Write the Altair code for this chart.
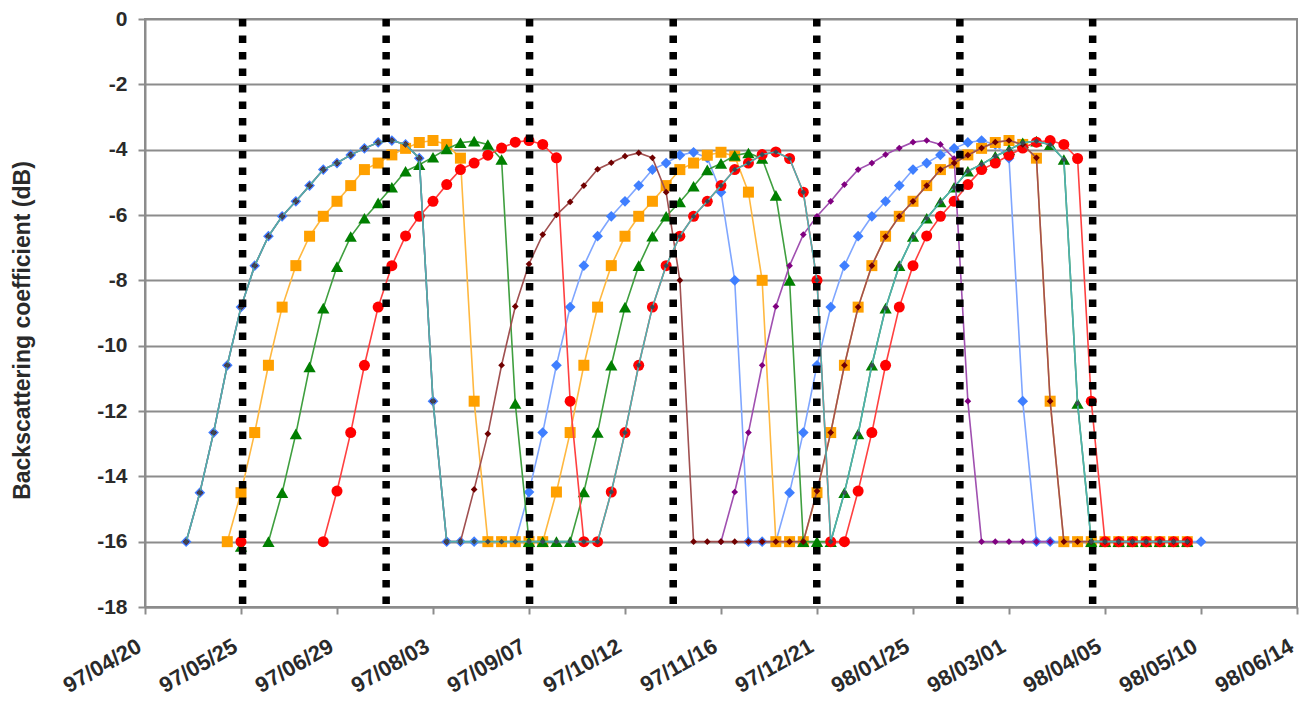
import altair as alt
import pandas as pd

# ---------------- data ----------------
TICK_DATES = ["1997-04-20", "1997-05-25", "1997-06-29", "1997-08-03", "1997-09-07",
              "1997-10-12", "1997-11-16", "1997-12-21", "1998-01-25", "1998-03-01",
              "1998-04-05", "1998-05-10", "1998-06-14"]
Y_TICKS = [0, -2, -4, -6, -8, -10, -12, -14, -16, -18]

# dotted vertical lines (acquisition dates)
OVERPASS_DATES = ["1997-05-25T14:00:00Z", "1997-07-16T22:00:00Z", "1997-09-07T05:00:00Z",
                  "1997-10-29T14:00:00Z", "1997-12-20T22:00:00Z", "1998-02-11T02:00:00Z",
                  "1998-03-31T12:00:00Z"]

STEP = "5D"  # one point every 5 days

BLUE_START = "1997-05-05"
BLUE_VALUES = [
    -16, -14.5, -12.66, -10.6, -8.82, -7.55, -6.65, -6.04, -5.58, -5.1,
    -4.61, -4.41, -4.16, -3.96, -3.78, -3.72, -3.84, -4.26, -11.7, -16,
    -16, -16, -16, -16,
    -16, -14.48, -12.66, -10.6, -8.82, -7.55, -6.65, -6.04, -5.58, -5.1,
    -4.61, -4.41, -4.17, -4.08, -4.25, -5.3, -8.0, -16,
    -16,
    -16, -14.5, -12.66, -10.6, -8.82, -7.55, -6.65, -6.04, -5.58, -5.1,
    -4.61, -4.41, -4.16, -3.96, -3.78, -3.72, -3.84, -4.26, -11.7, -16,
    -16, -16, -16, -16, -16, -16, -16, -16, -16, -16, -16, -16,
]

ORANGE_START = "1997-05-20"
ORANGE_VALUES = [
    -16, -14.5, -12.66, -10.6, -8.82, -7.55, -6.65, -6.04, -5.58, -5.1,
    -4.61, -4.41, -4.16, -3.96, -3.78, -3.72, -3.84, -4.26, -11.7, -16,
    -16, -16, -16,
    -16, -14.48, -12.66, -10.6, -8.82, -7.55, -6.65, -6.04, -5.58, -5.1,
    -4.61, -4.41, -4.17, -4.08, -4.2, -5.3, -8.0, -16,
    -16,
    -16, -14.5, -12.66, -10.6, -8.82, -7.55, -6.65, -6.04, -5.58, -5.1,
    -4.61, -4.41, -4.16, -3.96, -3.78, -3.72, -3.84, -4.26, -11.7, -16,
    -16, -16, -16, -16, -16, -16, -16, -16, -16,
]

GREEN_START = "1997-06-04"
GREEN_VALUES = [
    -16, -14.5, -12.7, -10.65, -8.85, -7.58, -6.66, -6.1, -5.63, -5.15,
    -4.66, -4.46, -4.23, -3.98, -3.79, -3.74, -3.84, -4.3, -11.77, -16,
    -16, -16,
    -16, -14.48, -12.66, -10.6, -8.82, -7.55, -6.65, -6.04, -5.6, -5.12,
    -4.62, -4.42, -4.18, -4.1, -4.27, -5.4, -8.0, -16,
    -16,
    -16, -14.5, -12.7, -10.6, -8.85, -7.55, -6.66, -6.1, -5.6, -5.15,
    -4.66, -4.45, -4.2, -4.0, -3.79, -3.74, -3.85, -4.3, -11.77, -16,
    -16, -16, -16, -16, -16, -16, -16,
]

RED_START = "1997-06-24"
RED_VALUES = [
    -16, -14.45, -12.66, -10.6, -8.82, -7.55, -6.64, -6.04, -5.58, -5.07,
    -4.61, -4.41, -4.17, -3.95, -3.77, -3.72, -3.84, -4.25, -11.7, -16,
    -16, -14.48, -12.66, -10.6, -8.82, -7.55, -6.65, -6.04, -5.58, -5.1,
    -4.61, -4.41, -4.15, -4.07, -4.27, -5.3, -8.0, -16,
    -16, -14.45, -12.66, -10.6, -8.82, -7.55, -6.64, -6.04, -5.58, -5.07,
    -4.61, -4.41, -4.17, -3.95, -3.77, -3.72, -3.84, -4.27, -11.7, -16,
    -16, -16, -16, -16, -16, -16,
]

PURPLE_START = "1997-11-16"
PURPLE_VALUES = [
    -16, -14.48, -12.66, -10.6, -8.8, -7.55, -6.6, -6.04, -5.58, -5.07,
    -4.61, -4.41, -4.15, -3.95, -3.77, -3.72, -3.84, -4.27, -11.7, -16,
    -16, -16, -16, -16, -16,
]

BROWN_START = "1997-05-05"
BROWN_VALUES = [
    -16, -14.5, -12.66, -10.6, -8.82, -7.55, -6.65, -6.04, -5.58, -5.1,
    -4.61, -4.41, -4.16, -3.96, -3.78, -3.72, -3.84, -4.26, -11.7, -16,
    -16, -14.4, -12.7, -10.6, -8.8, -7.5, -6.6, -6.0, -5.6, -5.1,
    -4.6, -4.4, -4.2, -4.1, -4.25, -5.3, -8.0, -16,
    -16, -16, -16, -16, -16, -16, -16,
    -16, -14.45, -12.66, -10.6, -8.82, -7.55, -6.66, -6.04, -5.58, -5.1,
    -4.61, -4.41, -4.17, -3.95, -3.77, -3.72, -3.84, -4.25, -11.7, -16,
    -16, -16, -16, -16, -16, -16, -16, -16, -16,
]

TEAL_START = "1997-05-05"
TEAL_VALUES = [
    -16, -14.5, -12.66, -10.6, -8.82, -7.55, -6.65, -6.04, -5.58, -5.1,
    -4.61, -4.41, -4.16, -3.96, -3.78, -3.72, -3.84, -4.26, -11.7, -16,
    -16, -16, -16, -16, -16, -16, -16, -16, -16, -16,
    -16, -14.48, -12.66, -10.6, -8.82, -7.55, -6.65, -6.04, -5.58, -5.1,
    -4.61, -4.41, -4.15, -4.07, -4.27, -5.3, -8.0, -16,
    -14.5, -12.7, -10.6, -8.85, -7.55, -6.66, -6.1, -5.6, -5.15,
    -4.66, -4.45, -4.2, -4.0, -3.79, -3.74, -3.85, -4.3, -11.77, -16,
    -16, -16, -16, -16, -16, -16, -16,
]

# two lone points at the first dotted line
STRAY_DATES = ["1997-05-25", "1997-05-25"]
STRAY_VALUES = [-16.15, -16.0]
STRAY_KIND = ["green", "red"]

# ---------------- styling ----------------
FONT = "Liberation Sans"
TEXT = "#2a2a2a"
GRID = "#8c8c8c"

x_axis = alt.Axis(
    values=[alt.DateTime(year=int(d[:4]), month=int(d[5:7]), date=int(d[8:10]), utc=True)
            for d in TICK_DATES],
    labelExpr="utcFormat(datum.value, '%y/%m/%d')",
    title=None, grid=False,
    labelAngle=-30, labelAlign="right", labelBaseline="middle",
    labelPadding=30, labelOffset=-6, labelOverlap=False, labelFlush=False, labelBound=False,
    labelFont=FONT, labelFontSize=22, labelFontWeight="bold", labelColor=TEXT,
    tickSize=7, tickWidth=2, tickColor=GRID, domainColor=GRID, domainWidth=2,
)
y_axis = alt.Axis(
    values=Y_TICKS,
    labelExpr="datum.value == 0 ? '0' : '-' + abs(datum.value)",
    title="Backscattering coefficient (dB)",
    titleFont=FONT, titleFontSize=23, titleFontWeight="bold", titleColor=TEXT,
    titleAngle=270, titleX=-123, titleY=311, titleAlign="center", titleBaseline="middle",
    labelFont=FONT, labelFontSize=21, labelFontWeight="bold", labelColor=TEXT, labelPadding=11,
    grid=True, gridColor=GRID, gridWidth=2,
    tickSize=7, tickWidth=2, tickColor=GRID, domainColor=GRID, domainWidth=2,
)

X = alt.X("date:T",
          scale=alt.Scale(type="utc",
                          domain=[alt.DateTime(year=1997, month=4, date=20, utc=True),
                                  alt.DateTime(year=1998, month=6, date=14, utc=True)]),
          axis=x_axis)
Y = alt.Y("value:Q", scale=alt.Scale(domain=[-18, 0], nice=False, zero=False), axis=y_axis)


def series(start, values, line_color, shape, fill, size):
    dates = pd.date_range(start, periods=len(values), freq=STEP).strftime("%Y-%m-%d")
    df = pd.DataFrame({"date": list(dates), "value": values})
    base = alt.Chart(df).encode(x=X, y=Y)
    line = base.mark_line(color=line_color, strokeWidth=1.6)
    pts = base.mark_point(shape=shape, filled=True, fill=fill, size=size, opacity=1,
                          strokeWidth=0)
    return [line, pts]


layers = []
layers += series(BLUE_START, BLUE_VALUES, "#7fa6ff", "diamond", "#3f7fff", 115)
layers += series(ORANGE_START, ORANGE_VALUES, "#ffb840", "square", "#ffa000", 121)
layers += series(GREEN_START, GREEN_VALUES, "#3f9f3f", "triangle-up", "#007f00", 150)
layers += series(RED_START, RED_VALUES, "#ff4040", "circle", "#ff0000", 121)
layers += series(PURPLE_START, PURPLE_VALUES, "#a050b0", "diamond", "#800080", 45)
layers += series(BROWN_START, BROWN_VALUES, "#a05050", "diamond", "#700000", 45)
layers += series(TEAL_START, TEAL_VALUES, "#4fb0b0", "diamond", "#3a4a55", 32)

stray = pd.DataFrame({"date": STRAY_DATES, "value": STRAY_VALUES, "kind": STRAY_KIND})
layers.append(
    alt.Chart(stray).transform_filter("datum.kind == 'green'").mark_point(
        shape="triangle-up", filled=True, fill="#007f00", size=150, opacity=1, strokeWidth=0
    ).encode(x=X, y=Y)
)
layers.append(
    alt.Chart(stray).transform_filter("datum.kind == 'red'").mark_point(
        shape="circle", filled=True, fill="#ff0000", size=121, opacity=1, strokeWidth=0
    ).encode(x=X, y=Y)
)

rules_df = pd.DataFrame({"date": OVERPASS_DATES})
layers.append(
    alt.Chart(rules_df).mark_rule(color="black", strokeWidth=7.5, strokeDash=[7.5, 9],
                                  strokeCap="butt").encode(
        x=X, y=alt.datum(0), y2=alt.datum(-18)
    )
)

chart = alt.layer(*layers).properties(
    width=1152, height=588,
    autosize=alt.AutoSizeParams(type="none"),
    padding={"left": 137, "top": 11, "right": 5, "bottom": 93},
    background="white",
).configure_view(stroke=GRID, strokeWidth=2)

chart.save("out.html", embed_options={"renderer": "svg", "actions": False})
